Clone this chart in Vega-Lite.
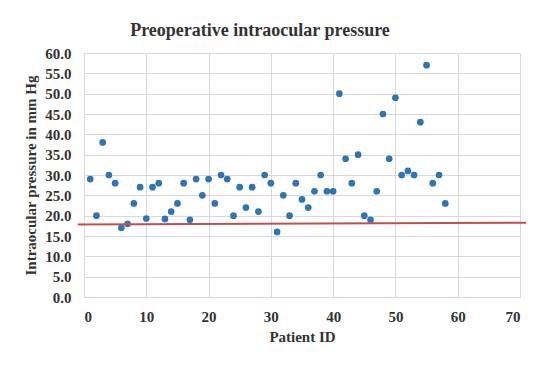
{
  "$schema": "https://vega.github.io/schema/vega-lite/v6.json",
  "width": 436,
  "height": 244,
  "autosize": {"type": "none"},
  "padding": {"left": 84, "top": 53, "right": 30, "bottom": 71},
  "background": "white",
  "title": {
    "text": "Preoperative intraocular pressure",
    "font": "Liberation Serif",
    "fontSize": 18,
    "fontWeight": "bold",
    "color": "#333333",
    "anchor": "middle",
    "dx": -42,
    "offset": 6
  },
  "config": {
    "view": {"stroke": null},
    "axis": {
      "labelFont": "Liberation Serif",
      "labelFontSize": 15,
      "labelFontWeight": "bold",
      "labelColor": "#333333",
      "labelOverlap": false,
      "titleFont": "Liberation Serif",
      "titleFontSize": 15,
      "titleFontWeight": "bold",
      "titleColor": "#333333",
      "gridColor": "#d9d9d9",
      "gridWidth": 1,
      "domainColor": "#d9d9d9",
      "ticks": false
    }
  },
  "datasets": {
    "pts": [
      {"id": 1, "iop": 29}, {"id": 2, "iop": 20}, {"id": 3, "iop": 38}, {"id": 4, "iop": 30},
      {"id": 5, "iop": 28}, {"id": 6, "iop": 17}, {"id": 7, "iop": 18}, {"id": 8, "iop": 23},
      {"id": 9, "iop": 27}, {"id": 10, "iop": 19.3}, {"id": 11, "iop": 27}, {"id": 12, "iop": 28},
      {"id": 13, "iop": 19.2}, {"id": 14, "iop": 21}, {"id": 15, "iop": 23}, {"id": 16, "iop": 28},
      {"id": 17, "iop": 19}, {"id": 18, "iop": 29}, {"id": 19, "iop": 25}, {"id": 20, "iop": 29},
      {"id": 21, "iop": 23}, {"id": 22, "iop": 30}, {"id": 23, "iop": 29}, {"id": 24, "iop": 20},
      {"id": 25, "iop": 27}, {"id": 26, "iop": 22}, {"id": 27, "iop": 27}, {"id": 28, "iop": 21},
      {"id": 29, "iop": 30}, {"id": 30, "iop": 28}, {"id": 31, "iop": 16}, {"id": 32, "iop": 25},
      {"id": 33, "iop": 20}, {"id": 34, "iop": 28}, {"id": 35, "iop": 24}, {"id": 36, "iop": 22},
      {"id": 37, "iop": 26}, {"id": 38, "iop": 30}, {"id": 39, "iop": 26}, {"id": 40, "iop": 26},
      {"id": 41, "iop": 50}, {"id": 42, "iop": 34}, {"id": 43, "iop": 28}, {"id": 44, "iop": 35},
      {"id": 45, "iop": 20}, {"id": 46, "iop": 19}, {"id": 47, "iop": 26}, {"id": 48, "iop": 45},
      {"id": 49, "iop": 34}, {"id": 50, "iop": 49}, {"id": 51, "iop": 30}, {"id": 52, "iop": 31},
      {"id": 53, "iop": 30}, {"id": 54, "iop": 43}, {"id": 55, "iop": 57}, {"id": 56, "iop": 28},
      {"id": 57, "iop": 30}, {"id": 58, "iop": 23}
    ],
    "ref": [
      {"id": -1, "iop": 17.85},
      {"id": 71, "iop": 18.25}
    ]
  },
  "encoding": {
    "x": {
      "field": "id", "type": "quantitative",
      "scale": {"domain": [0, 70], "nice": false},
      "axis": {"values": [0, 10, 20, 30, 40, 50, 60, 70], "title": "Patient ID", "labelPadding": 12, "titlePadding": 5}
    },
    "y": {
      "field": "iop", "type": "quantitative",
      "scale": {"domain": [0, 60], "nice": false},
      "axis": {"values": [0, 5, 10, 15, 20, 25, 30, 35, 40, 45, 50, 55, 60], "format": ".1f", "title": "Intraocular pressure in mm Hg", "labelPadding": 13, "titlePadding": 6}
    }
  },
  "layer": [
    {
      "data": {"name": "pts"},
      "mark": {"type": "circle", "size": 45, "opacity": 1, "color": "#2E75B6"}
    },
    {
      "data": {"name": "ref"},
      "mark": {"type": "line", "color": "#C0504D", "strokeWidth": 2, "clip": false}
    }
  ]
}
